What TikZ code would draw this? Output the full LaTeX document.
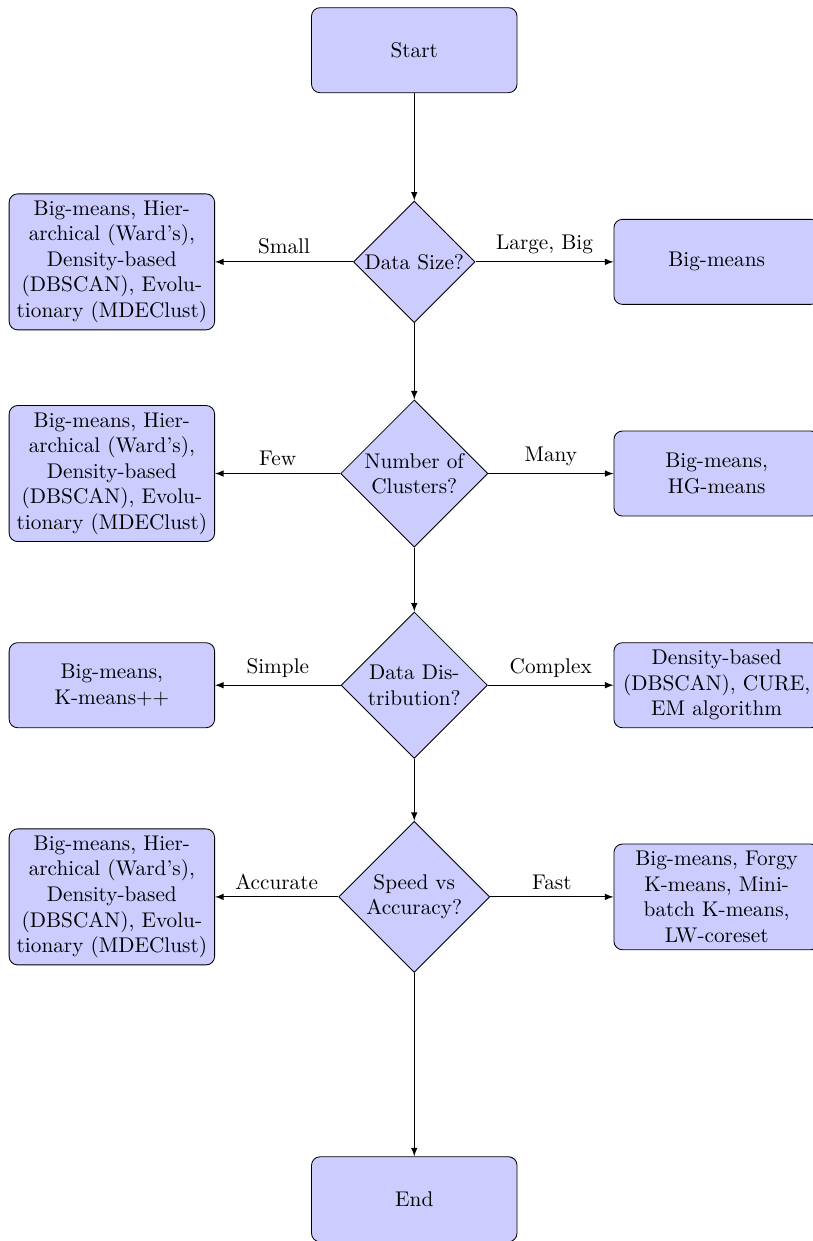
\documentclass[tikz,border=0pt]{standalone}
\usepackage{amsmath}
\usepackage{tikz}
\usetikzlibrary{shapes.geometric,positioning}

\begin{document}
\begin{tikzpicture}[
    block/.style={rectangle, draw, fill=blue!20, text width=9em, text centered, rounded corners, minimum height=4em},
    decision/.style={diamond, draw, fill=blue!20, text width=5em, text badly centered, inner sep=0pt},
    line/.style={draw, -latex}]
    \useasboundingbox (-6.85,0.83) rectangle (6.59,-19.69);

    \node[block] (start) at (0,0) {Start};
    \node[decision] (size) at (0,-3.5) {Data Size?};
    \node[block] (smallalg) at (-5,-3.5) {Big-means, Hierarchical (Ward's), Density-based (DBSCAN), Evolutionary (MDEClust)};
    \node[block] (largealg) at (5,-3.5) {Big-means};

    \node[decision] (clusters) at (0,-7) {Number of Clusters?};
    \node[block] (fewalg) at (-5,-7) {Big-means, Hierarchical (Ward's), Density-based (DBSCAN), Evolutionary (MDEClust)};
    \node[block] (manyalg) at (5,-7) {Big-means, HG-means};

    \node[decision] (distrib) at (0,-10.5) {Data Distribution?};
    \node[block] (simplealg) at (-5,-10.5) {Big-means, K-means++};
    \node[block] (complexalg) at (5,-10.5) {Density-based (DBSCAN), CURE, EM algorithm};

    \node[decision] (speed) at (0,-14) {Speed vs Accuracy?};
    \node[block] (accuratealg) at (-5,-14) {Big-means, Hierarchical (Ward's), Density-based (DBSCAN), Evolutionary (MDEClust)};
    \node[block] (fastalg) at (5,-14) {Big-means, Forgy K-means, Mini-batch K-means, LW-coreset};

    \node[block] (end) at (0,-19) {End};

    \path[line] (start) -- (size);
    \path[line] (size) -- node[above] {Small} (smallalg);
    \path[line] (size) -- node[above] {Large, Big} (largealg);
    \path[line] (size) -- (clusters);
    \path[line] (clusters) -- node[above] {Few} (fewalg);
    \path[line] (clusters) -- node[above] {Many} (manyalg);
    \path[line] (clusters) -- (distrib);
    \path[line] (distrib) -- node[above] {Simple} (simplealg);
    \path[line] (distrib) -- node[above] {Complex} (complexalg);
    \path[line] (distrib) -- (speed);
    \path[line] (speed) -- node[above] {Accurate} (accuratealg);
    \path[line] (speed) -- node[above] {Fast} (fastalg);
    \path[line] (speed) -- (end);
\end{tikzpicture}
\end{document}
